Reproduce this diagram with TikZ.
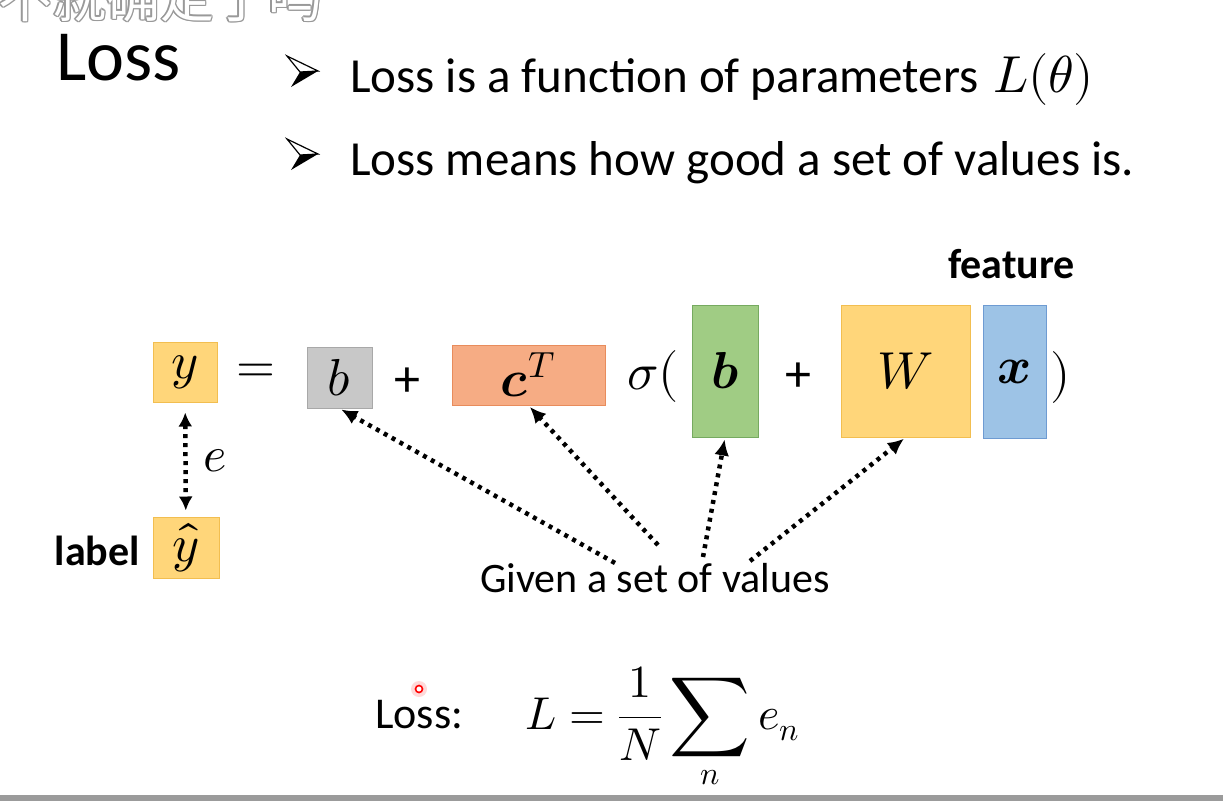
\documentclass[tikz,border=0pt]{standalone}
\usepackage{fontspec}
\usepackage{unicode-math}
\setmainfont{Carlito}
\setmathfont{Latin Modern Math}
\newfontfamily\cjk{Noto Sans CJK SC}
\usetikzlibrary{arrows.meta}

\definecolor{boxYellow}{RGB}{255,214,122}
\definecolor{edgeYellow}{RGB}{242,190,80}
\definecolor{boxGray}{RGB}{200,200,200}
\definecolor{edgeGray}{RGB}{168,168,168}
\definecolor{boxOrange}{RGB}{246,172,132}
\definecolor{edgeOrange}{RGB}{232,140,92}
\definecolor{boxGreen}{RGB}{160,204,132}
\definecolor{edgeGreen}{RGB}{118,170,96}
\definecolor{boxBlue}{RGB}{157,195,230}
\definecolor{edgeBlue}{RGB}{110,155,210}
\definecolor{barGray}{RGB}{155,155,155}

\begin{document}
\begin{tikzpicture}[x=1pt, y=-1pt,
            valbox/.style={draw, line width=1pt, inner sep=0pt, font=\fontsize{52}{58}\selectfont},
            symnode/.style={inner sep=0pt, font=\fontsize{50}{56}\selectfont},
            plainnode/.style={anchor=base west, inner sep=0pt, font=\fontsize{42}{50}\selectfont},
            boldnode/.style={anchor=base west, inner sep=0pt, font=\fontsize{42}{50}\selectfont\bfseries},
            bulletnode/.style={anchor=base west, inner sep=0pt, font=\fontsize{49}{58}\selectfont},
            subtitlenode/.style={anchor=base west, inner sep=0pt, font=\fontsize{54}{60}\selectfont\cjk},
            dotline/.style={line width=4.5pt, dash pattern=on 4pt off 5pt},
            dotarrow/.style={dotline, -{Latex[length=16pt, width=15pt]}, shorten >=2pt}
        ]
            \useasboundingbox (0,0) rectangle (1223,801);

            % subtitle (outlined, cut at the top)
            \foreach \dx/\dy [count=\i] in {-1.4/0, 1.4/0, 0/-1.4, 0/1.4, -1/-1, 1/1, -1/1, 1/-1}{
                \node[subtitlenode, text=gray!80] (shadow\i) at (-2+\dx, 17+\dy) {不就确定了吗};
            }
            \node[subtitlenode, text=white] (subtitle) at (-2, 17) {不就确定了吗};

            % title
            \node[anchor=base west, inner sep=0pt, font=\fontsize{72}{80}\selectfont] (title) at (56, 80) {Loss};

            % bullets
            \draw[line width=1.2pt, line join=miter, fill=white] (287,56) -- (318,71) -- (300,72) -- cycle;
            \fill (300,72) -- (318,71) -- (291,87) -- cycle;
            \draw[line width=1.2pt, line join=miter, fill=white] (287,139) -- (318,154) -- (300,155) -- cycle;
            \fill (300,155) -- (318,154) -- (291,170) -- cycle;

            \node[bulletnode] (first) at (350, 92) {Loss is a function of parameters};
            \node[bulletnode, font=\fontsize{52}{58}\selectfont] (theta) at (993, 92) {$L(\theta)$};
            \node[bulletnode] (second) at (350, 175) {Loss means how good a set of values is.};

            % equation
            \node[valbox, fill=boxYellow, draw=edgeYellow, minimum width=64pt, minimum height=60pt] (yval) at (185, 372) {$y$};
            \node[symnode] (eq) at (256, 373) {$=$};
            \node[valbox, fill=boxGray, draw=edgeGray, minimum width=65pt, minimum height=61pt] (bgray) at (339.5, 377.5) {$b$};
            \node[inner sep=0pt, font=\fontsize{52}{58}\selectfont] (plusa) at (407, 382) {+};
            \node[valbox, fill=boxOrange, draw=edgeOrange, minimum width=153pt, minimum height=60pt] (cvec) at (528.5, 375) {$\symbfit{c}^{T}$};
            \node[symnode, font=\fontsize{52}{58}\selectfont] (sigma) at (653, 376) {$\sigma($};
            \node[valbox, fill=boxGreen, draw=edgeGreen, minimum width=66pt, minimum height=132pt] (bvec) at (725, 371) {$\symbfit{b}$};
            \node[inner sep=0pt, font=\fontsize{52}{58}\selectfont] (plusb) at (798, 377) {+};
            \node[valbox, fill=boxYellow, draw=edgeYellow, minimum width=129pt, minimum height=132pt] (wmat) at (905.5, 371) {$W$};
            \node[valbox, fill=boxBlue, draw=edgeBlue, minimum width=63pt, minimum height=133pt] (xvec) at (1014.5, 371.5) {$\symbfit{x}$};
            \node[symnode, font=\fontsize{52}{58}\selectfont] (close) at (1061, 377) {$)$};
            \node[boldnode] (feature) at (948, 278) {feature};

            % label and error
            \node[valbox, fill=boxYellow, draw=edgeYellow, minimum width=66pt, minimum height=61pt] (yhat) at (186, 547.5) {$\hat{y}$};
            \node[boldnode, anchor=base east] (label) at (140, 565) {label};
            \draw[dotline, {Latex[length=14pt, width=14pt]}-{Latex[length=14pt, width=14pt]}, shorten <=10pt, shorten >=6pt] (yval) -- (yhat);
            \node[symnode] (err) at (215, 461) {$e$};

            % given values
            \node[plainnode] (given) at (480, 592) {Given a set of values};
            \coordinate (g1) at (615, 563);
            \coordinate (g2) at (658, 545);
            \coordinate (g3) at (703, 557);
            \coordinate (g4) at (750, 561);
            \draw[dotarrow] (g1) -- (bgray.south);
            \draw[dotarrow] (g2) -- (cvec.south);
            \draw[dotarrow] (g3) -- (bvec.south);
            \draw[dotarrow] (g4) -- (wmat.south);

            % loss formula
            \node[plainnode, font=\fontsize{44}{50}\selectfont] (lossword) at (375, 728) {Loss:};
            \node[anchor=base west, inner sep=0pt, font=\fontsize{46}{52}\selectfont] (formula) at (525, 729)
                {$\displaystyle L=\frac{1}{N}\mathop{\vcenter{\hbox{\fontsize{56}{60}\selectfont$\displaystyle\sum$}}}\limits_{n} e_{n}$};

            % pointer
            \fill[red!25, opacity=0.6] (419, 689) circle (8);
            \draw[red, line width=1.6pt, fill=white] (419, 689) circle (3.5);

            % bottom bar
            \fill[barGray] (0, 795) rectangle (1223, 801);
        \end{tikzpicture}
\end{document}
